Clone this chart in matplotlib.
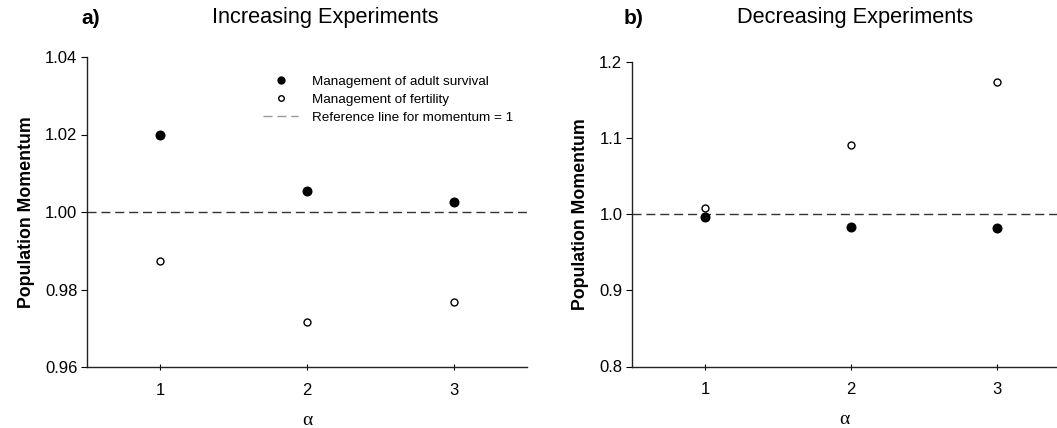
import matplotlib
matplotlib.use("Agg")
import matplotlib.pyplot as plt

plt.rcParams['font.family'] = ['Liberation Sans', 'DejaVu Sans']

alpha_vals = [1, 2, 3]
inc_survival = [1.0200, 1.0055, 1.0025]
inc_fertility = [0.9873, 0.9716, 0.9768]
dec_survival = [0.996, 0.983, 0.981]
dec_fertility = [1.008, 1.091, 1.173]

inc_yticks = [0.96, 0.98, 1.00, 1.02, 1.04]
inc_yticklabels = ["0.96", "0.98", "1.00", "1.02", "1.04"]
dec_yticks = [0.8, 0.9, 1.0, 1.1, 1.2]
dec_yticklabels = ["0.8", "0.9", "1.0", "1.1", "1.2"]

W, H = 1057, 428
fig = plt.figure(figsize=(W / 100, H / 100), dpi=100)

axA = fig.add_axes([87 / W, 1 - 367 / H, (527 - 87) / W, (367 - 57) / H])
axB = fig.add_axes([632 / W, 1 - 366.5 / H, (1057 - 632) / W, (366.5 - 61.5) / H])

def style(ax, yticks, ylabels, ylim, xlim):
    for s in ["top", "right"]:
        ax.spines[s].set_visible(False)
    for s in ["left", "bottom"]:
        ax.spines[s].set_linewidth(1.0)
        ax.spines[s].set_color("#222222")
    ax.set_xlim(*xlim)
    ax.set_ylim(*ylim)
    ax.set_xticks(alpha_vals)
    ax.set_xticklabels([str(a) for a in alpha_vals], fontsize=12)
    ax.set_yticks(yticks)
    ax.set_yticklabels(ylabels, fontsize=12)
    ax.tick_params(axis="x", direction="inout", length=5, width=0.8, pad=9)
    ax.tick_params(axis="y", direction="out", length=4, width=0.8, pad=3)
    ax.set_ylabel("Population Momentum", fontsize=12.8, fontweight="bold", labelpad=7)
    ax.set_xlabel("α", fontsize=14, family=["Liberation Serif", "DejaVu Serif"], labelpad=10)

style(axA, inc_yticks, inc_yticklabels, (0.96, 1.04), (0.5, 3.5))
style(axB, dec_yticks, dec_yticklabels, (0.8, 1.2), (0.5, 0.5 + (1057 - 632) / 146.0))

for ax, surv, fert in [(axA, inc_survival, inc_fertility), (axB, dec_survival, dec_fertility)]:
    ax.axhline(1.0, color="#333333", lw=1.0, ls=(0, (6.5, 3.5)), zorder=1,
               label="Reference line for momentum = 1")
    ax.plot(alpha_vals, surv, ls="none", marker="o", ms=6.2, mfc="black", mec="black",
            label="Management of adult survival", zorder=3)
    ax.plot(alpha_vals, fert, ls="none", marker="o", ms=5, mfc="white", mec="black",
            mew=1.0, label="Management of fertility", zorder=3)

h, l = axA.get_legend_handles_labels()
order = [1, 2, 0]
leg = axA.legend([h[i] for i in order], [l[i] for i in order], loc="upper left",
                 bbox_to_anchor=(0.401, 0.94), frameon=False, fontsize=9.7,
                 handlelength=2.6, handletextpad=1.0, labelspacing=0.42, markerscale=0.8,
                 borderpad=0, borderaxespad=0)
leg.get_lines()[2].set_color("#999999")

fig.text(91 / W, 1 - 19 / H, "a)", fontsize=15, fontweight="bold", ha="center", va="center")
fig.text(325 / W, 1 - 18 / H, "Increasing Experiments", fontsize=15.7, ha="center", va="center")
fig.text(634 / W, 1 - 19 / H, "b)", fontsize=15, fontweight="bold", ha="center", va="center")
fig.text(855 / W, 1 - 18 / H, "Decreasing Experiments", fontsize=15.7, ha="center", va="center")

fig.savefig("out.png", dpi=100)
